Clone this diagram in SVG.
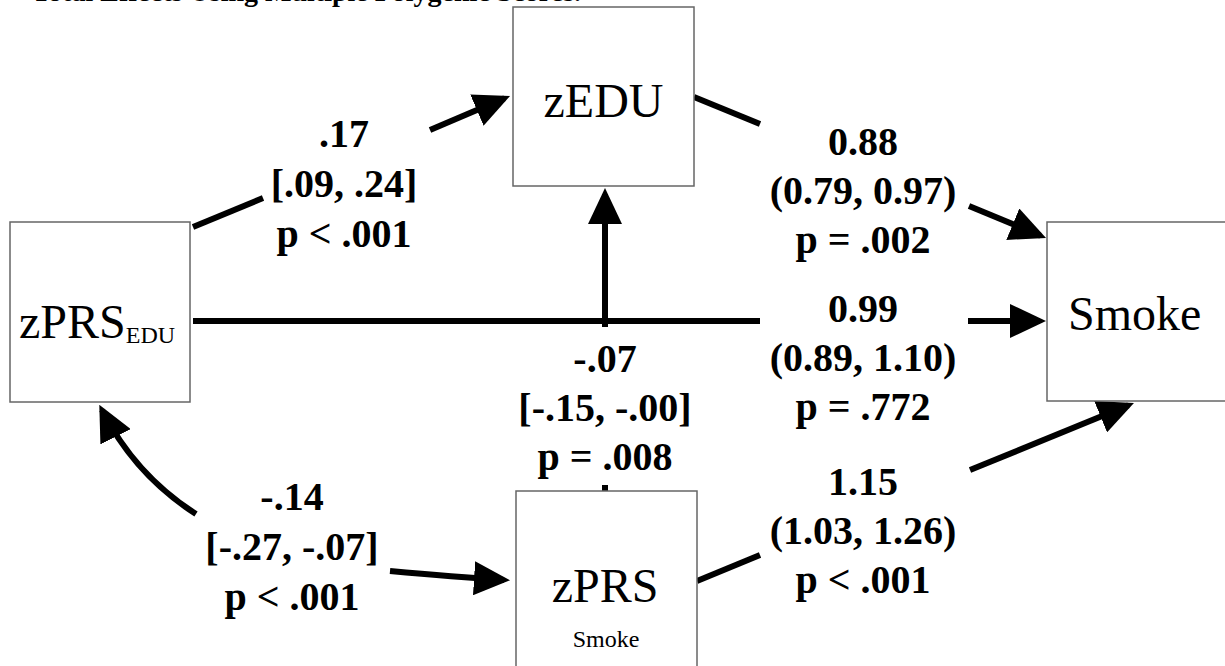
<svg xmlns="http://www.w3.org/2000/svg" width="1225" height="666" viewBox="0 0 1225 666">
<style>
.box{fill:#fff;stroke:#666;stroke-width:1.5}
.node{font-family:"Liberation Serif",serif;font-size:48px;fill:#000}
.small{font-family:"Liberation Serif",serif;font-size:24px;fill:#000}
.lbl{font-family:"Liberation Serif",serif;font-size:40px;font-weight:700;fill:#000;text-anchor:middle}
.title{font-family:"Liberation Serif",serif;font-size:28px;font-weight:700;fill:#000}
.edge{fill:none;stroke:#000;stroke-width:6}
</style>
<defs>
<marker id="ah" markerUnits="userSpaceOnUse" markerWidth="36" markerHeight="34" refX="30" refY="17" orient="auto" viewBox="0 0 36 34">
<path d="M0,0 L36,17 L0,34 z" fill="#000"/>
</marker>
</defs>
<rect width="1225" height="666" fill="#fff"/>
<text class="title" x="32" y="0.5">Total Effects Using Multiple Polygenic Scores.</text>

<g id="connectors">
<line class="edge" x1="193" y1="227" x2="263" y2="198"/>
<line class="edge" x1="430" y1="130" x2="504.5" y2="98.3" marker-end="url(#ah)"/>
<line class="edge" x1="694" y1="97" x2="760" y2="124"/>
<line class="edge" x1="969" y1="206" x2="1040.5" y2="235.7" marker-end="url(#ah)"/>
<line class="edge" x1="193" y1="321" x2="760" y2="321"/>
<line class="edge" x1="968" y1="321" x2="1040" y2="321" marker-end="url(#ah)"/>
<line class="edge" x1="605" y1="491" x2="605" y2="485"/>
<line class="edge" x1="605" y1="327" x2="605" y2="194" marker-end="url(#ah)"/>
<line class="edge" x1="697" y1="581" x2="760" y2="555"/>
<line class="edge" x1="970" y1="470" x2="1128.4" y2="405.3" marker-end="url(#ah)"/>
<path class="edge" d="M196,514 Q135,475 102,410" marker-end="url(#ah)"/>
<path class="edge" d="M390,571 Q455,577 504,580" marker-end="url(#ah)"/>
</g>

<g id="node-zPRS-EDU">
<rect class="box" x="10" y="222" width="180" height="180"/>
<text class="node" x="19" y="338">zPRS<tspan style="font-size:24px" dy="5">EDU</tspan></text>
</g>
<g id="node-zEDU">
<rect class="box" x="513" y="7" width="181" height="179"/>
<text class="node" x="603.5" y="117" text-anchor="middle">zEDU</text>
</g>
<g id="node-Smoke">
<rect class="box" x="1047" y="222" width="190" height="179"/>
<text class="node" x="1068" y="330">Smoke</text>
</g>
<g id="node-zPRS-Smoke">
<rect class="box" x="516" y="491" width="181" height="190"/>
<text class="node" x="605" y="602" text-anchor="middle">zPRS</text>
<text class="small" x="606" y="647" text-anchor="middle">Smoke</text>
</g>

<g id="labels">
<text class="lbl" x="344" y="147">.17</text>
<text class="lbl" x="344" y="197">[.09, .24]</text>
<text class="lbl" x="344" y="247">p &lt; .001</text>

<text class="lbl" x="863" y="155">0.88</text>
<text class="lbl" x="863" y="204">(0.79, 0.97)</text>
<text class="lbl" x="863" y="253">p = .002</text>

<text class="lbl" x="863" y="322">0.99</text>
<text class="lbl" x="863" y="371">(0.89, 1.10)</text>
<text class="lbl" x="863" y="420">p = .772</text>

<text class="lbl" x="605" y="372">-.07</text>
<text class="lbl" x="605" y="421">[-.15, -.00]</text>
<text class="lbl" x="605" y="470">p = .008</text>

<text class="lbl" x="863" y="495">1.15</text>
<text class="lbl" x="863" y="544">(1.03, 1.26)</text>
<text class="lbl" x="863" y="593">p &lt; .001</text>

<text class="lbl" x="292" y="510">-.14</text>
<text class="lbl" x="292" y="560">[-.27, -.07]</text>
<text class="lbl" x="292" y="610">p &lt; .001</text>
</g>
</svg>
